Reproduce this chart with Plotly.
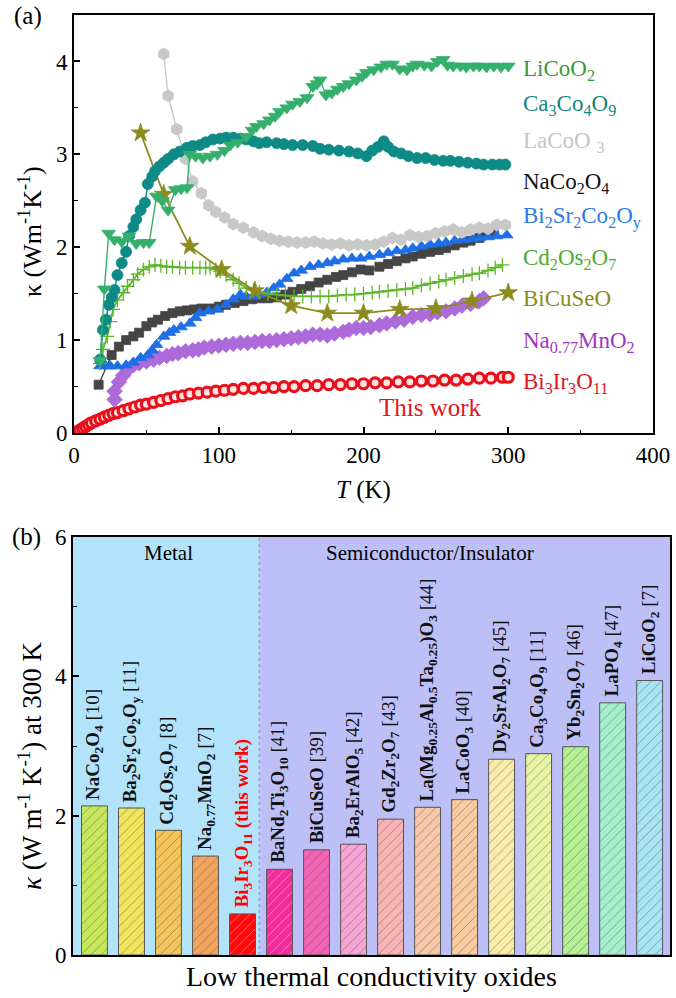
import plotly.graph_objects as go

# ---------------- Panel (a) data: (T [K], kappa [W m^-1 K^-1]) ----------------
licoo2 = [(18,0.78),(21,1.55),(24,2.15),(28,2.08),(33,2.06),(38,2.12),(43,2.04),(48,2.05),(52,2.05),(57,2.55),
          (61,2.50),(65,2.40),(70,2.62),(74,2.63),(78,2.64),(80,3.00),(84,2.98),(89,2.96),(94,2.98),(99,3.00),
          (104,3.04),(108,3.10),(113,3.13),(119,3.19),(123,3.26),(126,3.30),(131,3.33),(135,3.37),(139,3.41),
          (142,3.46),(147,3.50),(151,3.54),(156,3.57),(161,3.61),(165,3.73),(168,3.76),(170,3.80),(174,3.64),
          (178,3.66),(182,3.70),(186,3.73),(190,3.76),(195,3.80),(199,3.84),(202,3.88),(207,3.91),(212,3.94),
          (216,3.97),(220,3.97),(225,3.92),(230,3.91),(234,3.95),(237,3.97),(242,3.96),(247,3.95),(251,4.00),
          (255,4.02),(258,3.96),(262,3.95),(267,3.95),(271,3.94),(276,3.95),(280,3.95),(285,3.94),(290,3.95),
          (295,3.94),(300,3.95)]
ca3co4o9 = [(18,0.79),(20,1.11),(22,1.22),(24,1.38),(26,1.46),(28,1.54),(30,1.70),(33,1.83),(36,1.95),(38,2.12),
            (41,2.22),(43,2.30),(46,2.40),(49,2.48),(51,2.68),(54,2.76),(56,2.82),(59,2.87),(62,2.91),(65,2.95),
            (69,3.00),(73,3.03),(78,3.07),(82,3.09),(87,3.10),(91,3.13),(96,3.16),(101,3.17),(105,3.18),(110,3.18),
            (115,3.17),(119,3.16),(124,3.14),(128,3.12),(133,3.13),(140,3.12),(145,3.11),(151,3.10),(158,3.10),
            (165,3.09),(170,3.06),(176,3.05),(183,3.04),(190,3.03),(196,3.01),(202,2.98),(206,3.04),(210,3.08),
            (214,3.14),(217,3.08),(221,3.03),(226,3.01),(231,2.98),(237,2.96),(243,2.96),(249,2.94),(255,2.93),
            (260,2.93),(266,2.92),(272,2.91),(278,2.90),(283,2.89),(289,2.89),(294,2.89),(298,2.89)]
lacoo3 = [(62,4.08),(65,3.63),(71,3.27),(77,2.95),(82,2.71),(88,2.58),(93,2.45),(98,2.38),(104,2.32),(110,2.25),
          (117,2.21),(124,2.16),(130,2.12),(136,2.09),(142,2.07),(148,2.06),(154,2.05),(160,2.05),(166,2.06),
          (172,2.04),(178,2.03),(184,2.04),(190,2.02),(196,2.03),(202,2.02),(208,2.03),(214,2.06),(220,2.10),
          (226,2.08),(232,2.13),(238,2.11),(244,2.12),(250,2.15),(256,2.17),(262,2.19),(268,2.16),(274,2.19),
          (280,2.21),(286,2.20),(292,2.24),(298,2.24)]
naco2o4 = [(17,0.52),(26,0.84),(31,0.93),(36,1.00),(41,1.04),(45,1.08),(50,1.15),(54,1.19),(58,1.22),(63,1.26),
           (68,1.29),(73,1.31),(78,1.32),(83,1.33),(88,1.34),(94,1.34),(100,1.36),(105,1.38),(111,1.40),(117,1.42),
           (123,1.44),(128,1.45),(134,1.45),(140,1.46),(146,1.49),(151,1.52),(157,1.55),(163,1.58),(169,1.62),
           (175,1.65),(181,1.68),(186,1.70),(192,1.73),(198,1.76),(204,1.75),(211,1.79),(217,1.82),(223,1.85),
           (229,1.88),(234,1.90),(240,1.93),(246,1.95),(252,1.97),(257,1.99),(263,2.02),(269,2.05),(274,2.07),
           (280,2.10),(285,2.14),(290,2.17)]
bi2sr2co2oy = [(18,0.72),(22,0.72),(25,0.72),(30,0.72),(36,0.73),(41,0.76),(46,0.81),(51,0.84),(54,0.89),(57,0.95),
               (62,1.04),(66,1.08),(69,1.11),(74,1.14),(80,1.18),(84,1.24),(87,1.29),(93,1.31),(99,1.33),(105,1.38),
               (110,1.44),(115,1.49),(119,1.47),(124,1.47),(128,1.49),(133,1.51),(138,1.56),(142,1.60),(147,1.66),
               (152,1.72),(157,1.75),(163,1.79),(169,1.81),(175,1.83),(180,1.85),(186,1.87),(192,1.88),(198,1.88),
               (204,1.90),(211,1.92),(217,1.94),(223,1.96),(229,1.97),(234,1.99),(240,2.01),(246,2.03),(252,2.04),
               (257,2.05),(263,2.07),(269,2.08),(275,2.09),(280,2.10),(286,2.11),(292,2.12),(299,2.13)]
cd2os2o7 = [(18,0.75),(20,0.90),(23,1.04),(25,1.20),(27,1.33),(30,1.43),(34,1.51),(37,1.58),(41,1.65),(44,1.71),
            (48,1.76),(52,1.79),(56,1.81),(60,1.80),(64,1.79),(68,1.79),(73,1.78),(77,1.78),(82,1.78),(87,1.78),
            (91,1.78),(94,1.78),(98,1.76),(101,1.74),(105,1.70),(110,1.65),(114,1.61),(119,1.56),(124,1.54),
            (128,1.52),(134,1.50),(140,1.49),(146,1.48),(152,1.47),(158,1.47),(164,1.47),(170,1.47),(176,1.47),
            (182,1.48),(188,1.49),(194,1.49),(200,1.50),(206,1.51),(211,1.52),(217,1.53),(223,1.54),(229,1.55),
            (234,1.56),(240,1.59),(246,1.61),(252,1.63),(257,1.65),(263,1.67),(269,1.69),(275,1.71),(280,1.72),
            (286,1.75),(291,1.78),(296,1.81)]
bicuseo = [(46,3.23),(62,2.57),(80,2.01),(102,1.76),(125,1.53),(150,1.37),(175,1.29),(200,1.29),(225,1.33),
           (250,1.34),(275,1.42),(300,1.51)]
na077mno2 = [(28,0.36),(28,0.45),(31,0.55),(34,0.62),(37,0.68),(41,0.73),(45,0.75),(50,0.77),(55,0.79),(59,0.81),
             (64,0.83),(68,0.85),(72,0.86),(77,0.88),(82,0.89),(86,0.90),(90,0.92),(95,0.93),(100,0.94),(105,0.95),
             (110,0.96),(115,0.97),(120,0.97),(125,0.98),(130,0.99),(135,0.99),(140,1.00),(145,1.01),(150,1.02),
             (155,1.03),(160,1.04),(165,1.06),(170,1.06),(175,1.05),(180,1.07),(186,1.09),(190,1.11),(195,1.13),
             (200,1.13),(205,1.14),(211,1.16),(216,1.18),(222,1.20),(228,1.22),(234,1.25),(240,1.27),(246,1.28),
             (251,1.30),(257,1.31),(263,1.34),(268,1.37),(274,1.39),(280,1.42),(283,1.45)]
bi3ir3o11 = [(2,0.01),(4,0.03),(6,0.05),(8,0.07),(10,0.09),(12,0.11),(15,0.13),(18,0.15),(21,0.17),(24,0.19),
             (27,0.21),(30,0.22),(34,0.24),(38,0.26),(42,0.28),(46,0.30),(50,0.31),(55,0.33),(60,0.35),(65,0.37),
             (70,0.39),(75,0.40),(80,0.42),(86,0.43),(92,0.44),(98,0.45),(104,0.46),(110,0.47),(117,0.48),(124,0.48),
             (131,0.49),(138,0.49),(145,0.50),(152,0.50),(160,0.51),(168,0.51),(176,0.52),(184,0.52),(192,0.53),
             (200,0.53),(208,0.54),(216,0.54),(224,0.55),(232,0.55),(240,0.56),(248,0.56),(256,0.57),(264,0.57),
             (272,0.58),(280,0.59),(288,0.59),(296,0.60),(300,0.60)]

# ---------------- Panel (b) data ----------------
bar_labels = [
    "<b>NaCo<sub>2</sub>O<sub>4</sub></b> [10]",
    "<b>Ba<sub>2</sub>Sr<sub>2</sub>Co<sub>2</sub>O<sub>y</sub></b> [11]",
    "<b>Cd<sub>2</sub>Os<sub>2</sub>O<sub>7</sub></b> [8]",
    "<b>Na<sub>0.77</sub>MnO<sub>2</sub></b> [7]",
    "<b>Bi<sub>3</sub>Ir<sub>3</sub>O<sub>11</sub> (this work)</b>",
    "<b>BaNd<sub>2</sub>Ti<sub>3</sub>O<sub>10</sub></b> [41]",
    "<b>BiCuSeO</b> [39]",
    "<b>Ba<sub>2</sub>ErAlO<sub>5</sub></b> [42]",
    "<b>Gd<sub>2</sub>Zr<sub>2</sub>O<sub>7</sub></b> [43]",
    "<b>La(Mg<sub>0.25</sub>Al<sub>0.5</sub>Ta<sub>0.25</sub>)O<sub>3</sub></b> [44]",
    "<b>LaCoO<sub>3</sub></b> [40]",
    "<b>Dy<sub>2</sub>SrAl<sub>2</sub>O<sub>7</sub></b> [45]",
    "<b>Ca<sub>3</sub>Co<sub>4</sub>O<sub>9</sub></b> [11]",
    "<b>Yb<sub>2</sub>Sn<sub>2</sub>O<sub>7</sub></b> [46]",
    "<b>LaPO<sub>4</sub></b> [47]",
    "<b>LiCoO<sub>2</sub></b> [7]",
]
bar_values = [2.14, 2.11, 1.79, 1.42, 0.59, 1.23, 1.51, 1.59, 1.95, 2.12, 2.23, 2.81, 2.89, 2.99, 3.62, 3.94]
bar_colors = ["#c6e85a", "#f0e45a", "#f2c45a", "#f2a45e", "#ff0a0a", "#f02c98", "#f464b4", "#f8a4d4",
              "#f8b4b4", "#f8c8a8", "#f8cca0", "#f8eca8", "#e8f4a4", "#b4f094", "#a4f0cc", "#a8e4f4"]
label_colors = ["#111111"] * 4 + ["#ff0000"] + ["#111111"] * 11

FONT = "Liberation Serif, Times New Roman, serif"

fig = go.Figure()

def add_series(data, name, symbol, color, size, lcolor=None, lwidth=0.8, line_w=1.4, fill=None):
    t = [p[0] for p in data]
    k = [p[1] for p in data]
    fig.add_trace(go.Scatter(
        x=t, y=k, mode="lines+markers", name=name, xaxis="x", yaxis="y",
        line=dict(color=color, width=line_w),
        marker=dict(symbol=symbol, size=size, color=fill if fill else color,
                    line=dict(color=lcolor if lcolor else color, width=lwidth)),
        showlegend=False))

add_series(bi3ir3o11, "Bi3Ir3O11", "circle", "#e8101a", 10, lcolor="#e8101a", lwidth=3.2, fill="#ffe4e4")
add_series(na077mno2, "Na0.77MnO2", "diamond", "#ad6ada", 12)
add_series(naco2o4, "NaCo2O4", "square", "#454545", 9)
add_series(bi2sr2co2oy, "Bi2Sr2Co2Oy", "triangle-up", "#1e6fe6", 11)
add_series(cd2os2o7, "Cd2Os2O7", "cross-thin", "#5cb82a", 10, lwidth=1.3, line_w=1.8)
add_series(bicuseo, "BiCuSeO", "star", "#8c8c1e", 14, line_w=1.8)
add_series(lacoo3, "LaCoO3", "hexagon", "#c8c8c8", 12)
add_series(ca3co4o9, "Ca3Co4O9", "circle", "#0e8a87", 11)
add_series(licoo2, "LiCoO2", "triangle-down", "#34b06c", 12)

# ---------------- bars ----------------
xi = list(range(len(bar_values)))
fig.add_trace(go.Bar(
    x=xi, y=bar_values, xaxis="x2", yaxis="y2", width=0.7,
    marker=dict(color=bar_colors, line=dict(color="#555555", width=1),
                pattern=dict(shape="/", fillmode="overlay", fgcolor="rgba(60,60,60,0.5)",
                             size=7, solidity=0.12)),
    showlegend=False))

axis_common = dict(showline=True, linewidth=2, linecolor="black", mirror=True, ticks="inside",
                   tickwidth=1.5, ticklen=6, tickcolor="black", showgrid=False, zeroline=False,
                   automargin=False,
                   tickfont=dict(family=FONT, size=23, color="black"))

fig.update_layout(
    template="none",
    width=676, height=998, margin=dict(l=0, r=0, t=0, b=0, pad=0, autoexpand=False),
    paper_bgcolor="white", plot_bgcolor="white",
    font=dict(family=FONT, color="black"),
    bargap=0.3,
    xaxis=dict(domain=[74/676, 653/676], range=[0, 400], anchor="y", dtick=100,
               minor=dict(ticks="inside", dtick=50, ticklen=3.5, tickcolor="black", tickwidth=1.2),
               **axis_common),
    yaxis=dict(domain=[1-433/998, 1-15/998], range=[0, 4.5], anchor="x", dtick=1,
               minor=dict(ticks="inside", dtick=0.5, ticklen=3.5, tickcolor="black", tickwidth=1.2),
               **axis_common),
    xaxis2=dict(domain=[73/676, 670/676], range=[-0.58, 15.55], anchor="y2", automargin=False,
                showline=True, linewidth=2, linecolor="black", mirror=True, ticks="",
                showticklabels=False, showgrid=False, zeroline=False),
    yaxis2=dict(domain=[1-955/998, 1-537/998], range=[0, 6], anchor="x2", dtick=2,
                minor=dict(ticks="inside", dtick=1, ticklen=3.5, tickcolor="black", tickwidth=1.2),
                **axis_common),
)

# background regions in panel (b)
fig.add_shape(type="rect", xref="x2", yref="y2", x0=-0.58, x1=4.45, y0=0, y1=6,
              fillcolor="#b3e3fa", line=dict(width=0), layer="below")
fig.add_shape(type="rect", xref="x2", yref="y2", x0=4.45, x1=15.55, y0=0, y1=6,
              fillcolor="#bdc0f7", line=dict(width=0), layer="below")
fig.add_shape(type="line", xref="x2", yref="y2", x0=4.45, x1=4.45, y0=0, y1=6,
              line=dict(color="#8a8a9a", width=1, dash="dot"))

ann = []
# panel letters
ann.append(dict(text="(a)", x=12/676, y=1-16/998, xref="paper", yref="paper", xanchor="left", yanchor="middle",
                showarrow=False, font=dict(size=25)))
ann.append(dict(text="(b)", x=10/676, y=1-537/998, xref="paper", yref="paper", xanchor="left", yanchor="middle",
                showarrow=False, font=dict(size=25)))
# axis titles
ann.append(dict(text="<i>T</i> (K)", x=363.5/676, y=1-490/998, xref="paper", yref="paper",
                xanchor="center", yanchor="middle", showarrow=False, font=dict(size=25)))
ann.append(dict(text="κ (Wm<sup>-1</sup>K<sup>-1</sup>)", x=30/676, y=1-232/998, xref="paper", yref="paper",
                xanchor="center", yanchor="middle", textangle=-90, showarrow=False, font=dict(size=26)))
ann.append(dict(text="Low thermal conductivity oxides", x=371.5/676, y=1-976/998, xref="paper", yref="paper",
                xanchor="center", yanchor="middle", showarrow=False, font=dict(size=28)))
ann.append(dict(text="<i>κ</i> (W m<sup>-1</sup> K<sup>-1</sup>) at 300 K", x=30/676, y=1-766/998,
                xref="paper", yref="paper", xanchor="center", yanchor="middle", textangle=-90,
                showarrow=False, font=dict(size=27)))

# series labels in panel (a)
series_labels = [
    ("LiCoO<sub>2</sub>", 3.91, "#3a9a3a"),
    ("Ca<sub>3</sub>Co<sub>4</sub>O<sub>9</sub>", 3.53, "#138684"),
    ("LaCoO <sub>3</sub>", 3.13, "#c4c4c4"),
    ("NaCo<sub>2</sub>O<sub>4</sub>", 2.69, "#111111"),
    ("Bi<sub>2</sub>Sr<sub>2</sub>Co<sub>2</sub>O<sub>y</sub>", 2.32, "#2a7ae8"),
    ("Cd<sub>2</sub>Os<sub>2</sub>O<sub>7</sub>", 1.87, "#4cac30"),
    ("BiCuSeO", 1.45, "#8a8a20"),
    ("Na<sub>0.77</sub>MnO<sub>2</sub>", 0.98, "#a435c4"),
    ("Bi<sub>3</sub>Ir<sub>3</sub>O<sub>11</sub>", 0.54, "#e0141e"),
]
for txt, yv, col in series_labels:
    ann.append(dict(text=txt, x=309, y=yv, xref="x", yref="y", xanchor="left", yanchor="middle",
                    showarrow=False, font=dict(size=23, color=col)))
ann.append(dict(text="This work", x=246, y=0.27, xref="x", yref="y", xanchor="center", yanchor="middle",
                showarrow=False, font=dict(size=25, color="#e0141e")))

# region labels panel (b)
ann.append(dict(text="Metal", x=1.99, y=5.77, xref="x2", yref="y2", xanchor="center", yanchor="middle",
                showarrow=False, font=dict(size=21)))
ann.append(dict(text="Semiconductor/Insulator", x=9.07, y=5.77, xref="x2", yref="y2", xanchor="center",
                yanchor="middle", showarrow=False, font=dict(size=21)))

# bar labels
for i, (lab, v, c) in enumerate(zip(bar_labels, bar_values, label_colors)):
    ann.append(dict(text=lab, x=i, y=v, xref="x2", yref="y2", textangle=-90, xanchor="center",
                    yanchor="bottom", yshift=4, showarrow=False, font=dict(size=19, color=c)))

fig.update_layout(annotations=ann)
fig.write_html("out.html")
